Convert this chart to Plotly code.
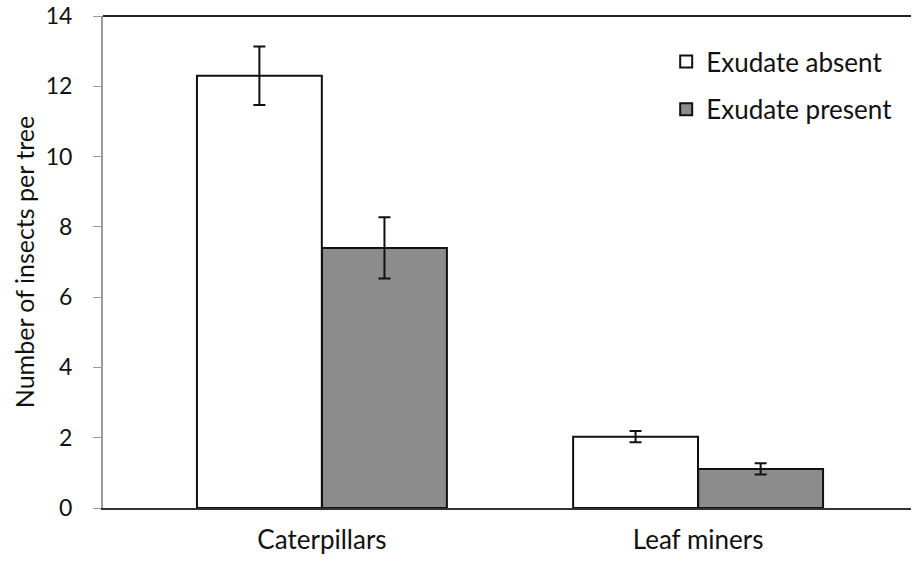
import plotly.graph_objects as go

categories = ["Caterpillars", "Leaf miners"]
absent_vals = [12.3, 2.03]
absent_err = [0.83, 0.16]
present_vals = [7.4, 1.11]
present_err = [0.87, 0.16]
series_names = ["Exudate absent", "Exudate present"]
y_ticks = [0, 2, 4, 6, 8, 10, 12, 14]

FONT = "Lato, 'Open Sans', sans-serif"

fig = go.Figure()
fig.add_trace(go.Bar(
    x=categories, y=absent_vals, name=series_names[0], legendgroup="a",
    marker=dict(color="white", line=dict(color="#111", width=2)),
    error_y=dict(type="data", array=absent_err, color="#111", thickness=2, width=6),
    width=0.332,
))
fig.add_trace(go.Bar(
    x=categories, y=present_vals, name=series_names[1], legendgroup="b",
    marker=dict(color="#8c8c8c", line=dict(color="#111", width=2)),
    error_y=dict(type="data", array=present_err, color="#111", thickness=2, width=6),
    width=0.332,
))

fig.update_layout(
    width=912, height=562,
    margin=dict(l=103, r=1, t=16, b=54),
    paper_bgcolor="white", plot_bgcolor="white",
    barmode="group", bargap=0.335, bargroupgap=0,
    font=dict(family=FONT, size=24, color="#111"),
    showlegend=True,
    legend=dict(x=0.697, y=0.955, xanchor="left", yanchor="top",
                font=dict(size=26), traceorder="grouped",
                tracegroupgap=11, bgcolor="rgba(0,0,0,0)"),
    xaxis=dict(range=[-0.582, 1.566], showline=True, linecolor="#333", linewidth=2,
               ticks="", showgrid=False, tickfont=dict(size=26), ticklabelstandoff=8),
    yaxis=dict(range=[0, 14], tickvals=y_ticks, showline=True, linecolor="#999",
               linewidth=2, ticks="outside", tickcolor="#999", ticklen=8,
               showgrid=False, zeroline=False, tickfont=dict(size=23),
               ticklabelstandoff=16,
               title=dict(text="Number of insects per tree", font=dict(size=25), standoff=4)),
)
fig.add_shape(type="line", xref="paper", yref="paper", x0=0, x1=1, y0=1, y1=1,
              line=dict(color="#222", width=2))

fig.write_html("out.html")
